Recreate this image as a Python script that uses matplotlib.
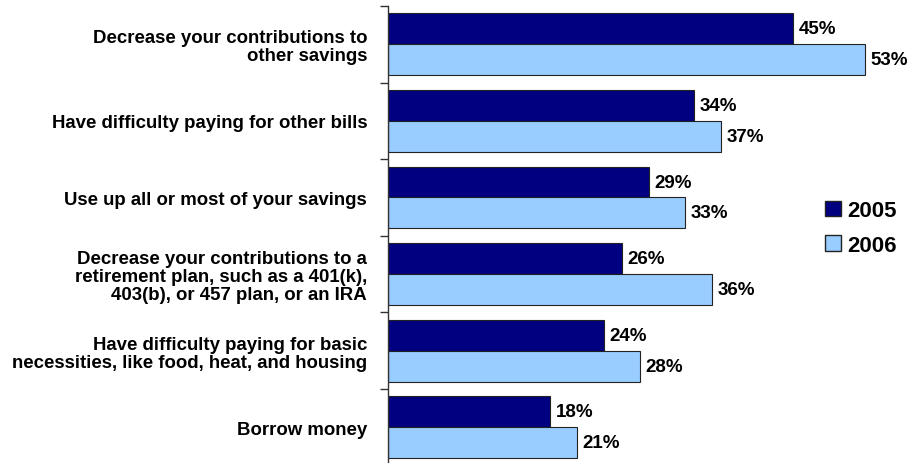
import matplotlib
matplotlib.use("Agg")
import matplotlib.pyplot as plt
import numpy as np
from matplotlib.patches import Patch

plt.rcParams['font.family'] = ['Liberation Sans', 'DejaVu Sans']
plt.rcParams['font.weight'] = 'bold'

categories = [
    "Decrease your contributions to\nother savings",
    "Have difficulty paying for other bills",
    "Use up all or most of your savings",
    "Decrease your contributions to a\nretirement plan, such as a 401(k),\n403(b), or 457 plan, or an IRA",
    "Have difficulty paying for basic\nnecessities, like food, heat, and housing",
    "Borrow money",
]
values_2005 = [45, 34, 29, 26, 24, 18]
values_2006 = [53, 37, 33, 36, 28, 21]
series_labels = ["2005", "2006"]
colors = ["#000080", "#99CCFF"]

fig = plt.figure(figsize=(9.11, 4.64), dpi=100)
top_px, step_px = 7, 76.6
h_px = step_px * 6
ax = fig.add_axes([388/911, 1 - (top_px + h_px)/464, (910-388)/911, h_px/464])

y = np.arange(len(categories))
bh = 0.405
ax.barh(y - 0.2, values_2005, height=bh, color=colors[0], edgecolor="#222222", linewidth=0.8)
ax.barh(y + 0.2, values_2006, height=bh, color=colors[1], edgecolor="#222222", linewidth=0.8)

for i, (a, b) in enumerate(zip(values_2005, values_2006)):
    ax.text(a + 0.6, i - 0.2, f"{a}%", va="center", ha="left", fontsize=13.5, fontweight="bold")
    ax.text(b + 0.6, i + 0.2, f"{b}%", va="center", ha="left", fontsize=13.5, fontweight="bold")

ax.set_xlim(0, 58)
ax.set_ylim(5.5, -0.5)
ax.set_yticks(np.arange(-0.5, 6.0, 1.0))
ax.set_yticklabels([])
ax.tick_params(axis="y", which="major", length=6, width=1, direction="out", color="#333333")
ax.set_yticks(y, minor=True)
ax.set_yticklabels(categories, minor=True, fontsize=13.4, fontweight="bold", ha="right",
                   multialignment="right", linespacing=1.08)
ax.tick_params(axis="y", which="minor", length=0, pad=15)
ax.set_xticks([])
for s in ["top", "right", "bottom"]:
    ax.spines[s].set_visible(False)
ax.spines["left"].set_color("#333333")
ax.spines["left"].set_linewidth(1)

handles = [Patch(facecolor=colors[0], edgecolor="#222222"), Patch(facecolor=colors[1], edgecolor="#222222")]
fig.legend(handles, series_labels, loc="center left", bbox_to_anchor=(805/911, 1 - 229/464),
           frameon=False, prop={"size": 16, "weight": "bold"}, handlelength=0.7, handleheight=0.7,
           handletextpad=0.3, labelspacing=0.6)

fig.savefig("out.png", dpi=100)
